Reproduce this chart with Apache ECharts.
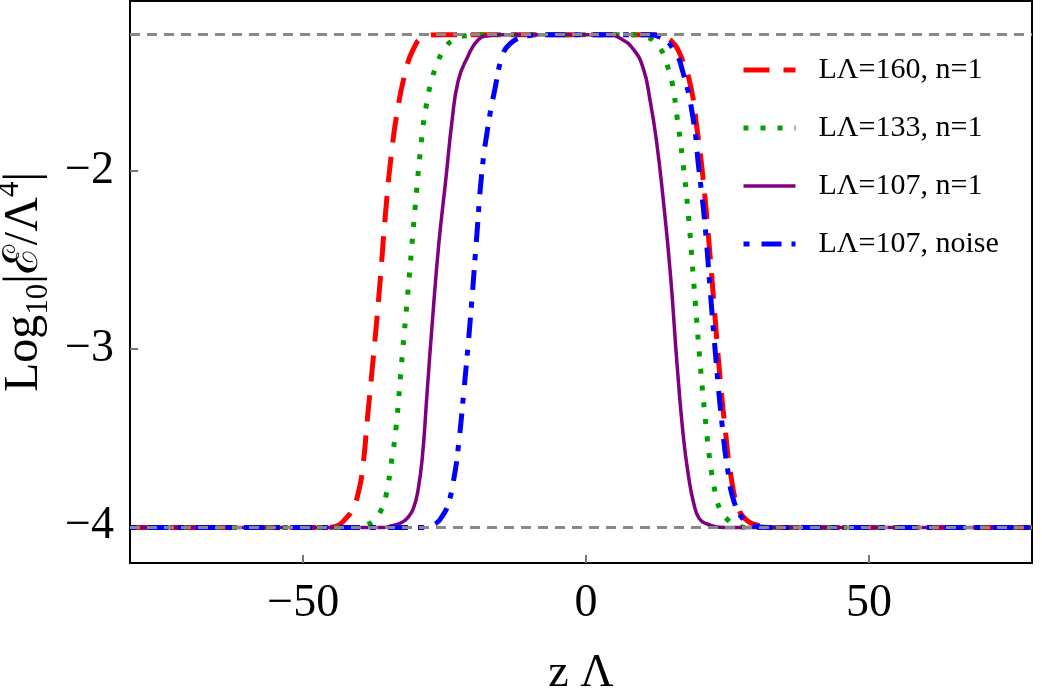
<!DOCTYPE html>
<html>
<head>
<meta charset="utf-8">
<script src="https://cdn.jsdelivr.net/npm/echarts@6/dist/echarts.min.js"></script>
<style>
  html, body { margin: 0; padding: 0; background: #fff; }
  #chart { width: 1042px; height: 696px; }
</style>
</head>
<body>
<div id="chart"></div>
<script>
  // [zΛ, log10|E/Λ^4|]
  const plateau = -1.23
  const floor = -4.01
  const xTicks = [-50, 0, 50]
  const yTicks = [-4, -3, -2]
  const names = ['LΛ=160, n=1', 'LΛ=133, n=1', 'LΛ=107, n=1', 'LΛ=107, noise']

  const lam160 = [
    [-80.6, -4.01], [-46, -4.01], [-44, -4.0], [-42.5, -3.96], [-41.3, -3.91], [-40.3, -3.82],
    [-39.5, -3.68], [-38.6, -3.38], [-37.6, -3.05], [-36.5, -2.66], [-35.4, -2.22],
    [-34.4, -1.9], [-33.4, -1.67], [-32.0, -1.45], [-30.5, -1.31],
    [-28.8, -1.245], [-26, -1.23], [0, -1.23], [12, -1.23], [14, -1.245], [15.2, -1.27],
    [16.6, -1.34], [18.4, -1.51], [19.6, -1.76], [20.6, -2.02], [21.6, -2.36],
    [22.6, -2.75], [23.6, -3.14], [24.6, -3.46], [25.6, -3.72],
    [26.8, -3.89], [28.4, -3.97], [30.7, -4.0], [33, -4.01], [78.8, -4.01]
  ]
  const lam133 = [
    [-80.6, -4.01], [-41, -4.01], [-39.4, -4.0], [-37.5, -3.97], [-36.2, -3.91], [-35.3, -3.82],
    [-34.5, -3.66], [-33.6, -3.45], [-32.6, -3.08], [-31.4, -2.65],
    [-30.2, -2.2], [-29.0, -1.8], [-28.2, -1.62], [-27.4, -1.5], [-26.4, -1.4], [-25.2, -1.32],
    [-23.5, -1.26], [-21, -1.235], [-18, -1.23], [0, -1.23], [8, -1.23], [10.4, -1.24],
    [13.1, -1.31], [14.3, -1.4], [15.2, -1.5], [16.1, -1.7], [17.0, -1.92], [18.0, -2.22],
    [19.1, -2.66], [20.2, -3.1], [21.2, -3.44], [22.0, -3.66],
    [22.8, -3.81], [23.7, -3.91], [24.8, -3.96], [26.7, -4.0], [29, -4.01], [78.8, -4.01]
  ]
  const lam107 = [
    [-80.6, -4.01], [-36, -4.01], [-34.3, -4.0], [-32.5, -3.98], [-31.4, -3.95], [-30.5, -3.9],
    [-29.7, -3.8], [-28.9, -3.6], [-28.1, -3.25], [-27.1, -2.82],
    [-26.0, -2.4], [-24.8, -2.05], [-23.7, -1.72], [-22.6, -1.49],
    [-21.0, -1.36], [-19.1, -1.26], [-17, -1.235], [-15, -1.23], [0, -1.23], [4, -1.23],
    [6.0, -1.25], [8.3, -1.31], [10.1, -1.42], [11.3, -1.6], [12.4, -1.82],
    [13.6, -2.15], [14.9, -2.58], [16.1, -3.1], [17.2, -3.5], [18.1, -3.72],
    [19.0, -3.87], [20.0, -3.96], [21.4, -3.99], [24.2, -4.01], [78.8, -4.01]
  ]
  const lam107noise = [
    [-80.6, -4.01], [-29, -4.01], [-26.7, -3.99], [-25.5, -3.95], [-24.4, -3.88], [-23.4, -3.74],
    [-22.6, -3.56], [-21.6, -3.24], [-20.5, -2.85], [-19.4, -2.4],
    [-18.4, -2.0], [-17.3, -1.74], [-16.2, -1.55], [-14.7, -1.34],
    [-13.4, -1.28], [-11.5, -1.245], [-10, -1.235], [-8, -1.23], [0, -1.23], [11, -1.23],
    [13.1, -1.245], [15.4, -1.31], [17.1, -1.44], [18.9, -1.7], [19.9, -1.98], [21.0, -2.3],
    [22.0, -2.7], [23.0, -3.08], [24.0, -3.42], [25.0, -3.68],
    [26.2, -3.87], [27.7, -3.96], [29.5, -4.0], [32, -4.01], [78.8, -4.01]
  ]

  const serif = 'Liberation Serif'
  const chart = echarts.init(document.getElementById('chart'))

  const styles = [
    { color: '#ff0000', width: 5, type: [26, 14] },
    { color: '#00a000', width: 5, type: [5, 12] },
    { color: '#800080', width: 3.5, type: 'solid' },
    { color: '#0000ff', width: 5, type: [6, 12, 20, 10] }
  ]

  const mkSeries = (i, data) => ({
    name: names[i],
    type: 'line',
    data: data,
    showSymbol: false,
    symbol: 'none',
    smooth: 0.5,
    lineStyle: { color: styles[i].color, width: styles[i].width, type: styles[i].type, cap: 'butt', join: 'round' },
    itemStyle: { color: styles[i].color }
  })

  const option = {
    animation: false,
    grid: {
      left: 130, right: 10, top: 1, bottom: 133,
      outerBoundsMode: 'none',
      containLabel: false,
      show: true, borderColor: '#000', borderWidth: 2
    },
    legend: {
      orient: 'vertical',
      left: 736, top: 50,
      itemWidth: 52, itemHeight: 10, itemGap: 28,
      itemStyle: { opacity: 0 },
      textStyle: { fontFamily: serif, fontSize: 30, color: '#000', padding: [0, 0, 0, 18] },
      data: names.map((n, i) => ({
        name: n,
        lineStyle: { color: styles[i].color, width: styles[i].width, type: styles[i].type, cap: 'butt' }
      }))
    },
    xAxis: {
      type: 'value',
      min: -80.6, max: 78.8,
      name: 'z Λ',
      nameLocation: 'middle',
      nameGap: 88,
      nameTextStyle: { fontFamily: serif, fontSize: 46, color: '#000' },
      splitLine: { show: false },
      axisLine: { onZero: false, lineStyle: { color: '#000', width: 2 } },
      axisTick: { customValues: xTicks, inside: true, length: 8, lineStyle: { color: '#777', width: 2 } },
      axisLabel: {
        customValues: xTicks, margin: 18,
        fontFamily: serif, fontSize: 46, color: '#000',
        formatter: v => String(v).replace('-', '−')
      }
    },
    yAxis: {
      type: 'value',
      min: -4.21, max: -1.04,
      name: '{a|Log}{sub|10}{a||ℰ/Λ}{sup|4}{a||}',
      nameLocation: 'middle',
      nameRotate: 90,
      nameGap: 70,
      nameTextStyle: {
        fontFamily: serif, fontSize: 48, color: '#000',
        rich: {
          a: { fontFamily: serif, fontSize: 48, color: '#000', lineHeight: 60, verticalAlign: 'middle' },
          sub: { fontFamily: serif, fontSize: 31, color: '#000', lineHeight: 30, verticalAlign: 'bottom' },
          sup: { fontFamily: serif, fontSize: 31, color: '#000', lineHeight: 30, verticalAlign: 'top' }
        }
      },
      splitLine: { show: false },
      axisLine: { onZero: false, lineStyle: { color: '#000', width: 2 } },
      axisTick: { customValues: yTicks, inside: true, length: 8, lineStyle: { color: '#777', width: 2 } },
      axisLabel: {
        customValues: yTicks, margin: 16,
        fontFamily: serif, fontSize: 46, color: '#000',
        formatter: v => String(v).replace('-', '−')
      }
    },
    series: [
      mkSeries(0, lam160),
      mkSeries(1, lam133),
      mkSeries(2, lam107),
      Object.assign(mkSeries(3, lam107noise), {
        markLine: {
          silent: true,
          symbol: 'none',
          label: { show: false },
          lineStyle: { color: '#888', width: 3, type: [10, 7] },
          data: [{ yAxis: plateau }, { yAxis: floor }]
        }
      })
    ]
  }
  chart.setOption(option)
</script>
</body>
</html>
